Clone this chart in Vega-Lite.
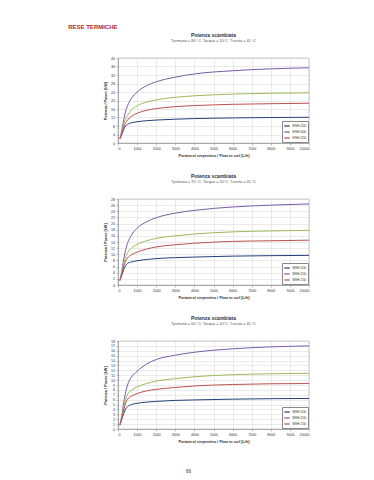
{
"$schema": "https://vega.github.io/schema/vega-lite/v6.json",
"padding": {"left": 68, "top": 23, "right": 5, "bottom": 2},
"background": "white",
"title": {"text": "RESE TERMICHE", "anchor": "start", "dx": -35, "fontSize": 6, "font": "Liberation Sans", "fontWeight": "bold", "color": "#B0282D", "offset": 3},
"config": {
  "font": "Liberation Sans",
  "view": {"stroke": "#9a9a9a", "strokeWidth": 0.6},
  "axis": {"labelFontSize": 3.6, "titleFontSize": 3.8, "titleFontWeight": "bold", "gridColor": "#d6d6d6", "gridWidth": 0.5, "domainColor": "#888", "domainWidth": 0.6, "tickColor": "#888", "tickSize": 2, "tickWidth": 0.5, "labelColor": "#333", "titleColor": "#333", "labelPadding": 1.5, "titlePadding": 3},
  "title": {"fontSize": 5, "subtitleFontSize": 3.8, "color": "#333", "subtitleColor": "#555", "fontWeight": "bold", "offset": 13, "subtitlePadding": 1},
  "legend": {"labelFontSize": 3.4, "symbolType": "stroke", "symbolSize": 30, "symbolStrokeWidth": 1.2, "fillColor": "white", "strokeColor": "#888", "padding": 1.5, "rowPadding": -0.5, "labelOffset": 2, "labelColor": "#333", "orient": "bottom-right", "offset": 1}
},
"datasets": {
  "c1": [
{"s":"ESH-200","x":100,"p":2},{"s":"ESH-200","x":200,"p":4},{"s":"ESH-200","x":300,"p":6.5},{"s":"ESH-200","x":400,"p":8},{"s":"ESH-200","x":500,"p":8.8},{"s":"ESH-200","x":700,"p":9.5},{"s":"ESH-200","x":1000,"p":10},{"s":"ESH-200","x":1500,"p":10.5},{"s":"ESH-200","x":2000,"p":10.8},{"s":"ESH-200","x":3000,"p":11.2},{"s":"ESH-200","x":4000,"p":11.5},{"s":"ESH-200","x":6000,"p":11.8},{"s":"ESH-200","x":8000,"p":12},{"s":"ESH-200","x":10000,"p":12.1},
{"s":"ESH-300","x":100,"p":2},{"s":"ESH-300","x":200,"p":6},{"s":"ESH-300","x":300,"p":11},{"s":"ESH-300","x":400,"p":15},{"s":"ESH-300","x":500,"p":17.5},{"s":"ESH-300","x":700,"p":21},{"s":"ESH-300","x":1000,"p":24},{"s":"ESH-300","x":1500,"p":27},{"s":"ESH-300","x":2000,"p":28.8},{"s":"ESH-300","x":3000,"p":31},{"s":"ESH-300","x":4000,"p":32.5},{"s":"ESH-300","x":6000,"p":34},{"s":"ESH-300","x":8000,"p":34.9},{"s":"ESH-300","x":10000,"p":35.4},
{"s":"ESH-350","x":100,"p":2},{"s":"ESH-350","x":200,"p":5},{"s":"ESH-350","x":300,"p":9},{"s":"ESH-350","x":400,"p":11.5},{"s":"ESH-350","x":500,"p":13},{"s":"ESH-350","x":700,"p":15.5},{"s":"ESH-350","x":1000,"p":17.5},{"s":"ESH-350","x":1500,"p":19.3},{"s":"ESH-350","x":2000,"p":20.3},{"s":"ESH-350","x":3000,"p":21.5},{"s":"ESH-350","x":4000,"p":22.2},{"s":"ESH-350","x":6000,"p":23},{"s":"ESH-350","x":8000,"p":23.4},{"s":"ESH-350","x":10000,"p":23.6},
{"s":"ESH-250","x":100,"p":2},{"s":"ESH-250","x":200,"p":4.5},{"s":"ESH-250","x":300,"p":7.5},{"s":"ESH-250","x":400,"p":9.5},{"s":"ESH-250","x":500,"p":10.8},{"s":"ESH-250","x":700,"p":12.5},{"s":"ESH-250","x":1000,"p":14},{"s":"ESH-250","x":1500,"p":15.4},{"s":"ESH-250","x":2000,"p":16.2},{"s":"ESH-250","x":3000,"p":17.1},{"s":"ESH-250","x":4000,"p":17.6},{"s":"ESH-250","x":6000,"p":18.2},{"s":"ESH-250","x":8000,"p":18.5},{"s":"ESH-250","x":10000,"p":18.7}
  ],
  "c2": [
{"s":"BSH-100","x":100,"p":1.5},{"s":"BSH-100","x":200,"p":3.2},{"s":"BSH-100","x":300,"p":5},{"s":"BSH-100","x":400,"p":6.3},{"s":"BSH-100","x":500,"p":7},{"s":"BSH-100","x":700,"p":7.5},{"s":"BSH-100","x":1000,"p":7.9},{"s":"BSH-100","x":1500,"p":8.3},{"s":"BSH-100","x":2000,"p":8.6},{"s":"BSH-100","x":3000,"p":8.9},{"s":"BSH-100","x":4000,"p":9.1},{"s":"BSH-100","x":6000,"p":9.4},{"s":"BSH-100","x":8000,"p":9.55},{"s":"BSH-100","x":10000,"p":9.65},
{"s":"BSH-200","x":100,"p":1.5},{"s":"BSH-200","x":200,"p":4.5},{"s":"BSH-200","x":300,"p":8.5},{"s":"BSH-200","x":400,"p":11.5},{"s":"BSH-200","x":500,"p":13.6},{"s":"BSH-200","x":700,"p":16.2},{"s":"BSH-200","x":1000,"p":18.5},{"s":"BSH-200","x":1500,"p":20.6},{"s":"BSH-200","x":2000,"p":21.9},{"s":"BSH-200","x":3000,"p":23.4},{"s":"BSH-200","x":4000,"p":24.3},{"s":"BSH-200","x":6000,"p":25.4},{"s":"BSH-200","x":8000,"p":26},{"s":"BSH-200","x":10000,"p":26.4},
{"s":"BSH-300","x":100,"p":1.5},{"s":"BSH-300","x":200,"p":4},{"s":"BSH-300","x":300,"p":7},{"s":"BSH-300","x":400,"p":9.2},{"s":"BSH-300","x":500,"p":10.5},{"s":"BSH-300","x":700,"p":12},{"s":"BSH-300","x":1000,"p":13.2},{"s":"BSH-300","x":1500,"p":14.4},{"s":"BSH-300","x":2000,"p":15.2},{"s":"BSH-300","x":3000,"p":16},{"s":"BSH-300","x":4000,"p":16.6},{"s":"BSH-300","x":6000,"p":17.3},{"s":"BSH-300","x":8000,"p":17.6},{"s":"BSH-300","x":10000,"p":17.8},
{"s":"BSH-150","x":100,"p":1.5},{"s":"BSH-150","x":200,"p":3.6},{"s":"BSH-150","x":300,"p":6},{"s":"BSH-150","x":400,"p":7.8},{"s":"BSH-150","x":500,"p":8.8},{"s":"BSH-150","x":700,"p":9.8},{"s":"BSH-150","x":1000,"p":10.7},{"s":"BSH-150","x":1500,"p":11.7},{"s":"BSH-150","x":2000,"p":12.4},{"s":"BSH-150","x":3000,"p":13.1},{"s":"BSH-150","x":4000,"p":13.6},{"s":"BSH-150","x":6000,"p":14.2},{"s":"BSH-150","x":8000,"p":14.4},{"s":"BSH-150","x":10000,"p":14.6}
  ],
  "c3": [
{"s":"BSH-100","x":100,"p":0.8},{"s":"BSH-100","x":200,"p":2},{"s":"BSH-100","x":300,"p":3.2},{"s":"BSH-100","x":400,"p":4.1},{"s":"BSH-100","x":500,"p":4.6},{"s":"BSH-100","x":700,"p":5},{"s":"BSH-100","x":1000,"p":5.25},{"s":"BSH-100","x":1500,"p":5.5},{"s":"BSH-100","x":2000,"p":5.65},{"s":"BSH-100","x":3000,"p":5.85},{"s":"BSH-100","x":4000,"p":5.95},{"s":"BSH-100","x":6000,"p":6.1},{"s":"BSH-100","x":8000,"p":6.2},{"s":"BSH-100","x":10000,"p":6.25},
{"s":"BSH-200","x":100,"p":0.8},{"s":"BSH-200","x":200,"p":2.8},{"s":"BSH-200","x":300,"p":5.5},{"s":"BSH-200","x":400,"p":7.5},{"s":"BSH-200","x":500,"p":9},{"s":"BSH-200","x":700,"p":10.6},{"s":"BSH-200","x":1000,"p":11.8},{"s":"BSH-200","x":1500,"p":13.3},{"s":"BSH-200","x":2000,"p":14.2},{"s":"BSH-200","x":3000,"p":15.1},{"s":"BSH-200","x":4000,"p":15.7},{"s":"BSH-200","x":6000,"p":16.4},{"s":"BSH-200","x":8000,"p":16.8},{"s":"BSH-200","x":10000,"p":17},
{"s":"BSH-300","x":100,"p":0.8},{"s":"BSH-300","x":200,"p":2.5},{"s":"BSH-300","x":300,"p":4.6},{"s":"BSH-300","x":400,"p":6.1},{"s":"BSH-300","x":500,"p":7.1},{"s":"BSH-300","x":700,"p":7.9},{"s":"BSH-300","x":1000,"p":8.6},{"s":"BSH-300","x":1500,"p":9.3},{"s":"BSH-300","x":2000,"p":9.8},{"s":"BSH-300","x":3000,"p":10.3},{"s":"BSH-300","x":4000,"p":10.7},{"s":"BSH-300","x":6000,"p":11.1},{"s":"BSH-300","x":8000,"p":11.3},{"s":"BSH-300","x":10000,"p":11.4},
{"s":"BSH-150","x":100,"p":0.8},{"s":"BSH-150","x":200,"p":2.2},{"s":"BSH-150","x":300,"p":3.9},{"s":"BSH-150","x":400,"p":5.3},{"s":"BSH-150","x":500,"p":6.1},{"s":"BSH-150","x":700,"p":6.7},{"s":"BSH-150","x":1000,"p":7.25},{"s":"BSH-150","x":1500,"p":7.8},{"s":"BSH-150","x":2000,"p":8.1},{"s":"BSH-150","x":3000,"p":8.5},{"s":"BSH-150","x":4000,"p":8.8},{"s":"BSH-150","x":6000,"p":9.1},{"s":"BSH-150","x":8000,"p":9.25},{"s":"BSH-150","x":10000,"p":9.3}
  ],
  "pg": [{"t": "66"}]
},
"spacing": 15,
"resolve": {"scale": {"color": "independent", "x": "independent", "y": "independent"}, "legend": {"color": "independent"}},
"vconcat": [
  {
    "width": 191, "height": 85,
    "data": {"name": "c1"},
    "title": {"text": "Potenza scambiata", "subtitle": "Tprimario = 80 °C; Tacqua = 10°C; Tuscita = 45 °C"},
    "mark": {"type": "line", "interpolate": "monotone", "strokeWidth": 1},
    "encoding": {
      "x": {"field": "x", "type": "quantitative", "scale": {"domain": [0, 10000]}, "axis": {"values": [0,1000,2000,3000,4000,5000,6000,7000,8000,9000,10000], "format": "d", "title": "Portata al serpentino / Flow to coil [L/h]"}},
      "y": {"field": "p", "type": "quantitative", "scale": {"domain": [0, 40]}, "axis": {"values": [0,4,8,12,16,20,24,28,32,36,40], "title": "Potenza / Power [kW]"}},
      "color": {"field": "s", "type": "nominal", "scale": {"domain": ["ESH-200","ESH-300","ESH-350","ESH-250"], "range": ["#23407A","#7A5CA6","#9BBB59","#C0504D"]}, "legend": {"values": ["ESH-200","ESH-300","ESH-250"], "title": null}}
    }
  },
  {
    "width": 191, "height": 86,
    "data": {"name": "c2"},
    "title": {"text": "Potenza scambiata", "subtitle": "Tprimario = 70 °C; Tacqua = 10°C; Tuscita = 45 °C"},
    "mark": {"type": "line", "interpolate": "monotone", "strokeWidth": 1},
    "encoding": {
      "x": {"field": "x", "type": "quantitative", "scale": {"domain": [0, 10000]}, "axis": {"values": [0,1000,2000,3000,4000,5000,6000,7000,8000,9000,10000], "format": "d", "title": "Portata al serpentino / Flow to coil [L/h]"}},
      "y": {"field": "p", "type": "quantitative", "scale": {"domain": [0, 28]}, "axis": {"values": [0,2,4,6,8,10,12,14,16,18,20,22,24,26,28], "title": "Potenza / Power [kW]"}},
      "color": {"field": "s", "type": "nominal", "scale": {"domain": ["BSH-100","BSH-200","BSH-300","BSH-150"], "range": ["#23407A","#7A5CA6","#9BBB59","#C0504D"]}, "legend": {"values": ["BSH-100","BSH-200","BSH-150"], "title": null}}
    }
  },
  {
    "width": 191, "height": 88,
    "data": {"name": "c3"},
    "title": {"text": "Potenza scambiata", "subtitle": "Tprimario = 60 °C; Tacqua = 10°C; Tuscita = 45 °C"},
    "mark": {"type": "line", "interpolate": "monotone", "strokeWidth": 1},
    "encoding": {
      "x": {"field": "x", "type": "quantitative", "scale": {"domain": [0, 10000]}, "axis": {"values": [0,1000,2000,3000,4000,5000,6000,7000,8000,9000,10000], "format": "d", "title": "Portata al serpentino / Flow to coil [L/h]"}},
      "y": {"field": "p", "type": "quantitative", "scale": {"domain": [0, 18]}, "axis": {"values": [0,1,2,3,4,5,6,7,8,9,10,11,12,13,14,15,16,17,18], "title": "Potenza / Power [kW]"}},
      "color": {"field": "s", "type": "nominal", "scale": {"domain": ["BSH-100","BSH-200","BSH-300","BSH-150"], "range": ["#23407A","#7A5CA6","#9BBB59","#C0504D"]}, "legend": {"values": ["BSH-100","BSH-200","BSH-150"], "title": null}}
    }
  },
  {
    "width": 191, "height": 26,
    "view": {"stroke": null},
    "data": {"name": "pg"},
    "mark": {"type": "text", "fontSize": 4.5, "color": "#333", "dx": -25},
    "encoding": {"text": {"field": "t", "type": "nominal"}}
  }
]
}
